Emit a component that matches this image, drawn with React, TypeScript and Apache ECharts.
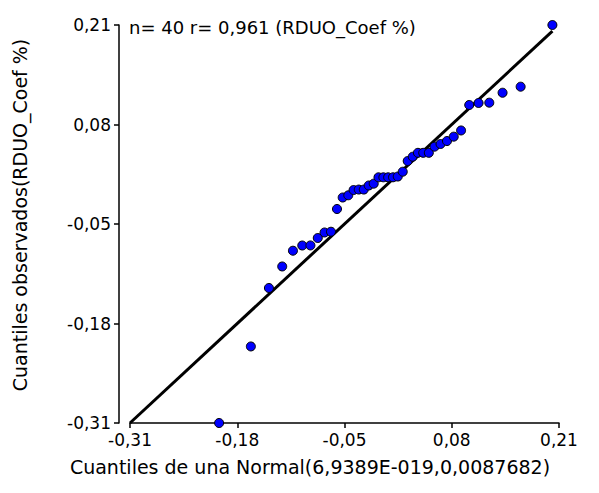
import React, { useEffect, useRef } from "react";
import * as echarts from "echarts";

const normalQuantiles = [
  -0.202, -0.1635, -0.1416, -0.1255, -0.1125, -0.1012, -0.0913, -0.0824, -0.0742, -0.0664,
  -0.0591, -0.0522, -0.0454, -0.039, -0.0327, -0.0266, -0.0206, -0.0146, -0.0088, -0.0029,
  0.0029, 0.0088, 0.0146, 0.0206, 0.0266, 0.0327, 0.039, 0.0454, 0.0522, 0.0591,
  0.0664, 0.0742, 0.0824, 0.0913, 0.1012, 0.1125, 0.1255, 0.1416, 0.1635, 0.202,
];
const observedQuantiles = [
  -0.31, -0.21, -0.1336, -0.1055, -0.0849, -0.0781, -0.078, -0.0683, -0.0611, -0.0601,
  -0.0304, -0.0154, -0.0125, -0.0056, -0.005, -0.005, 0.0003, 0.0027, 0.011, 0.011,
  0.011, 0.011, 0.012, 0.0183, 0.0323, 0.0379, 0.043, 0.043, 0.043, 0.051,
  0.0545, 0.0584, 0.0641, 0.0722, 0.1055, 0.1081, 0.1085, 0.1215, 0.1294, 0.21,
];
const refLine = [
  [-0.31, -0.31],
  [0.202, 0.202],
];
const tickValues = [-0.31, -0.18, -0.05, 0.08, 0.21];
const titleText = "n= 40 r= 0,961 (RDUO_Coef %)";
const xTitle = "Cuantiles de una Normal(6,9389E-019,0,0087682)";
const yTitle = "Cuantiles observados(RDUO_Coef %)";

const FONT = "'DejaVu Sans', sans-serif";
const fmt = (v: number) => v.toFixed(2).replace(".", ",");

export default function App() {
  const ref = useRef<HTMLDivElement>(null);
  useEffect(() => {
    if (!ref.current) return;
    const chart = echarts.init(ref.current, null, { renderer: "svg" });
    const axisCommon = {
      type: "value" as const,
      min: -0.31,
      max: 0.21,
      splitLine: { show: false },
      axisLine: { show: true, onZero: false, lineStyle: { color: "#000", width: 1.5 } },
      axisTick: {
        show: true,
        inside: false,
        length: 5,
        customValues: tickValues,
        lineStyle: { color: "#000", width: 1.5 },
      },
      axisLabel: {
        customValues: tickValues,
        formatter: (v: number) => fmt(v),
        color: "#000",
        fontFamily: FONT,
        fontSize: 17,
        showMinLabel: true,
        showMaxLabel: true,
      },
    };
    chart.setOption({
      animation: false,
      backgroundColor: "#fff",
      grid: { left: 130, right: 40, top: 25, bottom: 70, containLabel: false },
      xAxis: {
        ...axisCommon,
        axisLabel: { ...axisCommon.axisLabel, margin: 8 },
      },
      yAxis: {
        ...axisCommon,
        offset: 11,
        axisLabel: { ...axisCommon.axisLabel, margin: 8 },
      },
      graphic: [
        {
          type: "text",
          x: 129,
          y: 27,
          style: {
            text: titleText,
            font: `18px ${FONT}`,
            fill: "#000",
            verticalAlign: "middle",
          },
        },
        {
          type: "text",
          x: 310,
          y: 467,
          style: {
            text: xTitle,
            font: `19px ${FONT}`,
            fill: "#000",
            align: "center",
            verticalAlign: "middle",
          },
        },
        {
          type: "text",
          x: 20,
          y: 215,
          rotation: Math.PI / 2,
          style: {
            text: yTitle,
            font: `19px ${FONT}`,
            fill: "#000",
            align: "center",
            verticalAlign: "middle",
          },
        },
      ],
      series: [
        {
          type: "line",
          data: refLine,
          symbol: "none",
          lineStyle: { color: "#000", width: 3 },
          silent: true,
          z: 1,
        },
        {
          type: "scatter",
          data: normalQuantiles.map((x, i) => [x, observedQuantiles[i]]),
          symbol: "circle",
          symbolSize: 9,
          itemStyle: { color: "#0000ff", borderColor: "#000", borderWidth: 1, opacity: 1 },
          clip: false,
          z: 2,
        },
      ],
    });
    return () => chart.dispose();
  }, []);
  return (
    <div
      ref={ref}
      style={{ position: "fixed", left: 0, top: 0, width: 599, height: 493, background: "#fff" }}
    />
  );
}
